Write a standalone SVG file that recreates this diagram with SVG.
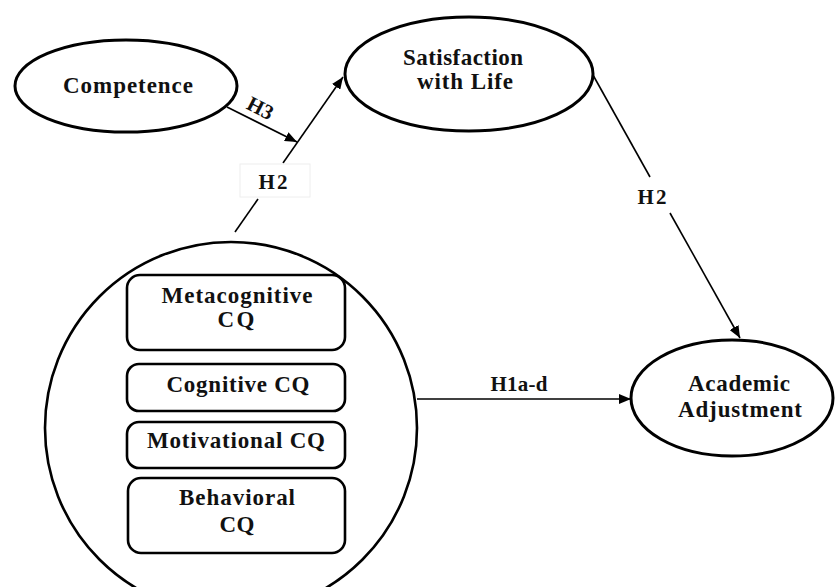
<svg xmlns="http://www.w3.org/2000/svg" width="835" height="587" viewBox="0 0 835 587">
<style>
.node{fill:#fff;stroke:#000;stroke-width:3}
.box{fill:#fff;stroke:#000;stroke-width:2.6}
.big{fill:#fff;stroke:#000;stroke-width:2.6}
.t{font-family:"Liberation Serif","Times New Roman",serif;font-weight:bold;font-size:23px;fill:#111;text-anchor:middle}
.lbl{font-family:"Liberation Serif","Times New Roman",serif;font-weight:bold;font-size:21px;fill:#111;text-anchor:middle}
.edge{stroke:#000;stroke-width:1.6;fill:none}
</style>
<defs>
<marker id="arr" viewBox="0 0 12 10" refX="12" refY="5" markerWidth="12" markerHeight="10" markerUnits="userSpaceOnUse" orient="auto">
<path d="M0,0 L12,5 L0,10 Z" fill="#000"/>
</marker>
</defs>
<rect width="835" height="587" fill="#fff"/>

<g id="cq-group">
<circle class="big" cx="231" cy="428" r="186"/>
</g>

<g id="connectors">
<path class="edge" d="M227,107 L297,142" marker-end="url(#arr)"/>
<path class="edge" d="M235,232 L258,199"/>
<path class="edge" d="M283,163 L343,77" marker-end="url(#arr)"/>
<path class="edge" d="M593,75 L650,177"/>
<path class="edge" d="M670,213 L740,338" marker-end="url(#arr)"/>
<path class="edge" d="M417,399 L631,399" marker-end="url(#arr)"/>
</g>

<g id="competence">
<ellipse class="node" cx="126" cy="86" rx="111" ry="46"/>
<text class="t" x="128" y="93" textLength="130" lengthAdjust="spacing">Competence</text>
</g>

<g id="satisfaction">
<ellipse class="node" cx="469" cy="74" rx="124" ry="57"/>
<text class="t" x="463" y="65" textLength="120" lengthAdjust="spacing">Satisfaction</text>
<text class="t" x="465" y="89" textLength="96" lengthAdjust="spacing">with Life</text>
</g>

<g id="academic">
<ellipse class="node" cx="732" cy="398" rx="101" ry="58"/>
<text class="t" x="739" y="391" textLength="102" lengthAdjust="spacing">Academic</text>
<text class="t" x="740" y="417" textLength="124" lengthAdjust="spacing">Adjustment</text>
</g>

<g id="metacognitive">
<rect class="box" x="127" y="275" width="218" height="75" rx="13"/>
<text class="t" x="237" y="303" textLength="151" lengthAdjust="spacing">Metacognitive</text>
<text class="t" x="236" y="327" textLength="37" lengthAdjust="spacing">CQ</text>
</g>

<g id="cognitive">
<rect class="box" x="127" y="364" width="218" height="47" rx="12"/>
<text class="t" x="238" y="392" textLength="143" lengthAdjust="spacing">Cognitive CQ</text>
</g>

<g id="motivational">
<rect class="box" x="127" y="422" width="218" height="46" rx="12"/>
<text class="t" x="236" y="448" textLength="178" lengthAdjust="spacing">Motivational CQ</text>
</g>

<g id="behavioral">
<rect class="box" x="128" y="478" width="217" height="75" rx="13"/>
<text class="t" x="237" y="505" textLength="116" lengthAdjust="spacing">Behavioral</text>
<text class="t" x="237" y="532" textLength="35" lengthAdjust="spacing">CQ</text>
</g>

<g id="labels">
<text class="lbl" transform="translate(260,109) rotate(27)" x="0" y="6">H3</text>
<rect x="240" y="164" width="70" height="33" fill="#fff" stroke="#eeeeee" stroke-width="1"/>
<text class="lbl" x="273" y="189" textLength="29" lengthAdjust="spacing">H2</text>
<text class="lbl" x="652" y="204" textLength="29" lengthAdjust="spacing">H2</text>
<text class="lbl" x="519" y="391" textLength="57" lengthAdjust="spacing">H1a-d</text>
</g>
</svg>
